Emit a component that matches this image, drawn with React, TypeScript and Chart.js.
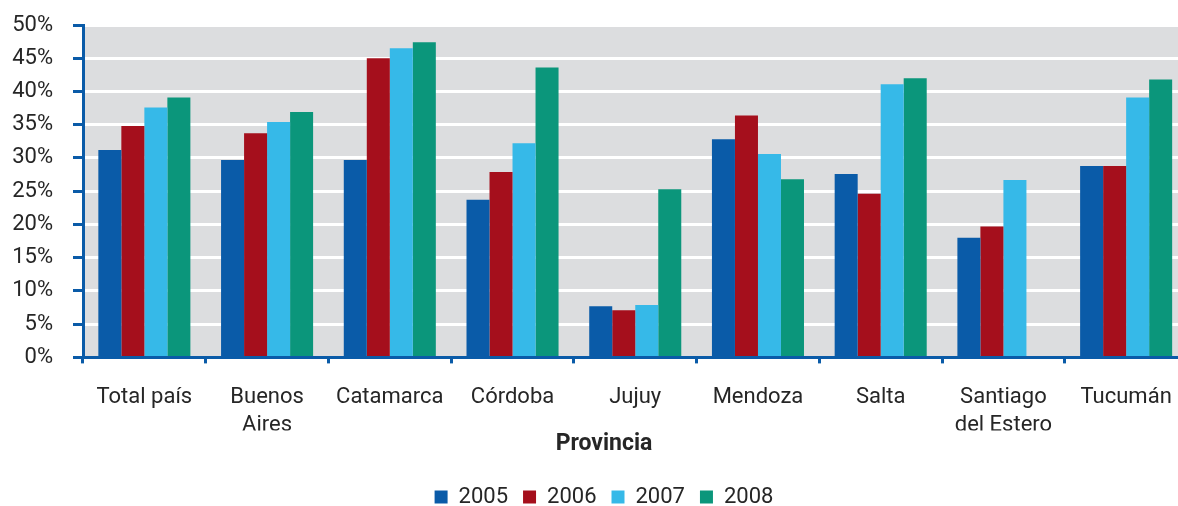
import React, { useEffect, useRef } from "react";
import { Chart, registerables } from "chart.js";

Chart.register(...registerables);

const categories: (string | string[])[] = [
  "Total país",
  ["Buenos", "Aires"],
  "Catamarca",
  "Córdoba",
  "Jujuy",
  "Mendoza",
  "Salta",
  ["Santiago", "del Estero"],
  "Tucumán",
];
const yearLabels = ["2005", "2006", "2007", "2008"];
const values2005 = [31.2, 29.7, 29.7, 23.7, 7.7, 32.8, 27.6, 18.0, 28.8];
const values2006 = [34.8, 33.7, 45.0, 27.9, 7.1, 36.4, 24.6, 19.7, 28.8];
const values2007 = [37.6, 35.4, 46.5, 32.2, 7.9, 30.6, 41.1, 26.7, 39.1];
const values2008 = [39.1, 36.9, 47.4, 43.6, 25.3, 26.8, 42.0, null, 41.8];
const yTicks = [0, 5, 10, 15, 20, 25, 30, 35, 40, 45, 50];

const colors = ["#0a5ba8", "#a50f1c", "#36b9e8", "#0b967b"];
const axisBlue = "#0a5ba8";
const textColor = "#262626";

const bgPlugin = {
  id: "plotBg",
  afterLayout(chart: any) {
    // let the y tick labels use the space left of the scale box
    if (chart.scales.y) chart.scales.y.left = 0;
  },
  beforeDraw(chart: any) {
    const { ctx, chartArea } = chart;
    ctx.save();
    ctx.fillStyle = "#dcdddf";
    ctx.fillRect(chartArea.left, chartArea.top, chartArea.right - chartArea.left, chartArea.bottom - chartArea.top);
    ctx.restore();
  },
};

export default function App() {
  const ref = useRef<HTMLCanvasElement | null>(null);
  useEffect(() => {
    document.body.style.margin = "0";
    const series = [values2005, values2006, values2007, values2008];
    const chart = new Chart(ref.current as HTMLCanvasElement, {
      type: "bar",
      data: {
        labels: categories,
        datasets: yearLabels.map((y, i) => ({
          label: y,
          data: series[i],
          backgroundColor: colors[i],
          borderWidth: 0,
          categoryPercentage: 0.75,
          barPercentage: 1.0,
        })),
      },
      options: {
        animation: false,
        responsive: false,
        maintainAspectRatio: false,
        layout: { padding: { top: 25, left: 20, right: 4, bottom: -12 } },
        plugins: {
          tooltip: { enabled: false },
          title: {
            display: true,
            position: "bottom",
            weight: 500,
            text: "Provincia",
            color: textColor,
            font: { family: "Roboto", size: 23, weight: "bold", lineHeight: 1.2 },
            padding: { top: 0, bottom: 13 },
          },
          legend: {
            position: "bottom",
            labels: {
              boxWidth: 13,
              boxHeight: 13,
              color: textColor,
              padding: 15,
              font: { family: "Roboto", size: 22 },
            },
          },
        },
        scales: {
          x: {
            afterFit: (scale: any) => {
              scale.height = 73;
            },
            grid: {
              display: true,
              drawOnChartArea: false,
              drawTicks: true,
              tickLength: 6,
              tickColor: axisBlue,
              lineWidth: 3,
              offset: true,
            },
            border: { display: true, color: axisBlue, width: 3 },
            ticks: {
              color: textColor,
              font: { family: "Roboto", size: 22, lineHeight: 1.27 },
              padding: 20,
              maxRotation: 0,
              autoSkip: false,
            },
          },
          y: {
            min: 0,
            max: 50,
            afterBuildTicks: (scale: any) => {
              scale.ticks = yTicks.map((v) => ({ value: v }));
            },
            afterFit: (scale: any) => {
              scale.width = 63;
              scale.paddingTop = 0;
              scale.paddingBottom = 0;
            },
            grid: {
              color: (ctx: any) => (ctx.tick && ctx.tick.value === 0 ? "rgba(0,0,0,0)" : "#ffffff"),
              lineWidth: 3,
              tickColor: axisBlue,
              tickLength: 10,
            },
            border: { display: true, color: axisBlue, width: 3 },
            ticks: {
              color: textColor,
              font: { family: "Roboto", size: 22 },
              padding: 20,
              callback: (v: any) => v + "%",
            },
          },
        },
      },
      plugins: [bgPlugin],
    });
    return () => chart.destroy();
  }, []);
  return (
    <div style={{ position: "fixed", left: 0, top: 0, width: 1178, height: 506, overflow: "hidden", background: "#fff" }}>
      <canvas ref={ref} width={1192} height={506} style={{ display: "block" }} />
    </div>
  );
}
